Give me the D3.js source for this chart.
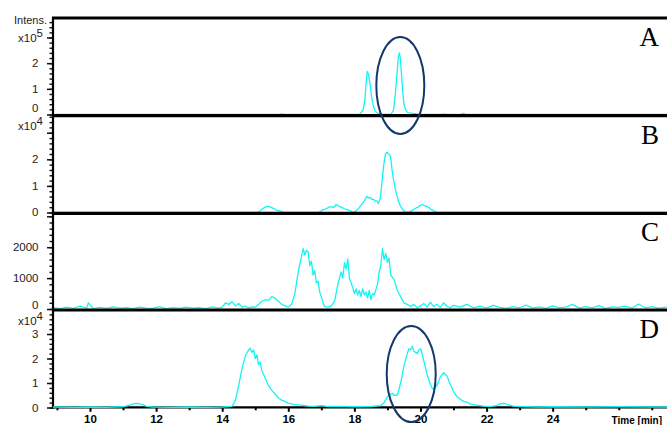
<!DOCTYPE html>
<html><head><meta charset="utf-8">
<script src="https://cdn.jsdelivr.net/npm/d3@7"></script>
<style>body{margin:0;background:#fff}svg{display:block}</style>
</head><body><svg id="c" width="667" height="425"></svg>
<script>
// ---------------- data ----------------
const panelNames = ["A", "B", "C", "D"];
const xLabelTicks = [10, 12, 14, 16, 18, 20, 22, 24];
const xMinorTicks = [9, 11, 13, 15, 17, 19, 21, 23, 25, 26, 27];
const xTitle = "Time [min]";
const yTitle = "Intens.";
const yLabelsA = [0, 1, 2];
const yLabelsB = [0, 1, 2];
const yLabelsC = [0, 1000, 2000];
const yLabelsD = [0, 1, 2, 3];
const exponents = ["5", "4", null, "4"];

// Panel A, intensity x10^5
const traceA = [[8.88,0],[15.7,0],[15.8,0.02],[15.9,0],[18.15,0],[18.22,0.1],[18.27,0.2],[18.32,0.6],[18.36,1.3],[18.39,1.68],[18.43,1.55],[18.47,1.2],[18.52,0.7],[18.57,0.35],[18.62,0.15],[18.7,0.05],[18.8,0.02],[19.1,0],[19.18,0.15],[19.24,0.8],[19.29,1.6],[19.33,2.25],[19.36,2.4],[19.39,2.2],[19.43,1.5],[19.47,0.8],[19.5,0.4],[19.56,0.15],[19.62,0.07],[19.72,0.05],[19.85,0.03],[19.95,0],[20.6,0],[20.7,0.02],[20.8,0],[21.2,0],[21.3,0.04],[21.4,0],[27.46,0]];

// Panel B, intensity x10^4
const traceB = [[8.88,0],[15.05,0],[15.15,0.05],[15.22,0.14],[15.3,0.2],[15.36,0.23],[15.42,0.22],[15.5,0.18],[15.58,0.14],[15.66,0.08],[15.75,0.05],[15.86,0.01],[16.0,0],[16.9,0],[16.97,0.04],[17.05,0.1],[17.15,0.14],[17.22,0.2],[17.3,0.22],[17.37,0.18],[17.45,0.3],[17.52,0.25],[17.6,0.2],[17.7,0.14],[17.8,0.1],[17.9,0.05],[17.97,0.01],[18.05,0.06],[18.13,0.15],[18.2,0.28],[18.28,0.4],[18.33,0.5],[18.38,0.6],[18.43,0.55],[18.48,0.57],[18.53,0.48],[18.58,0.5],[18.63,0.42],[18.68,0.44],[18.72,0.34],[18.78,0.5],[18.84,1.2],[18.89,1.8],[18.94,2.2],[18.99,2.27],[19.04,2.2],[19.08,2.15],[19.11,1.95],[19.14,1.6],[19.19,1.2],[19.24,0.87],[19.29,0.62],[19.34,0.4],[19.39,0.25],[19.44,0.15],[19.5,0.06],[19.56,0.01],[19.68,0.03],[19.76,0.08],[19.84,0.15],[19.92,0.2],[19.98,0.26],[20.05,0.3],[20.1,0.27],[20.16,0.24],[20.24,0.2],[20.32,0.12],[20.42,0.05],[20.52,0],[27.46,0]];

// Panel C, intensity (absolute)
const traceC = [[8.88,40],[9.1,10],[9.3,60],[9.5,20],[9.7,90],[9.9,30],[9.95,200],[10.1,15],[10.3,50],[10.5,20],[10.7,70],[10.9,25],[11.1,40],[11.3,10],[11.5,60],[11.7,30],[11.9,20],[12.1,80],[12.3,15],[12.5,45],[12.7,20],[12.9,60],[13.1,25],[13.3,40],[13.5,15],[13.7,70],[13.9,30],
[14.0,60],[14.1,200],[14.2,150],[14.3,230],[14.4,100],[14.5,180],[14.6,60],[14.7,90],[14.8,40],[14.9,70],[15.0,60],[15.1,150],[15.2,250],[15.3,300],[15.4,280],[15.5,400],[15.6,350],[15.7,250],[15.8,150],[15.9,100],[16.0,60],[16.1,150],[16.2,500],[16.3,1200],[16.4,1700],[16.45,1950],[16.5,1750],[16.55,1900],[16.6,1850],[16.65,1400],[16.7,1550],[16.75,1100],[16.8,1250],[16.85,850],[16.9,900],[16.95,550],[17.0,400],[17.05,200],[17.1,80],[17.2,60],[17.3,100],[17.4,250],[17.5,800],[17.6,1200],[17.65,1000],[17.7,1500],[17.75,1300],[17.8,1620],[17.85,1000],[17.9,850],[17.95,700],[18.0,500],[18.05,650],[18.1,450],[18.15,600],[18.2,400],[18.25,650],[18.3,450],[18.35,550],[18.4,350],[18.45,600],[18.5,300],[18.55,500],[18.6,450],[18.7,800],[18.75,1200],[18.8,1400],[18.85,1950],[18.9,1600],[18.95,1800],[19.0,1500],[19.05,1650],[19.1,1100],[19.2,950],[19.3,600],[19.4,400],[19.5,200],[19.6,150],[19.7,80],[19.8,150],[19.9,40],[20.0,100],[20.1,180],[20.2,60],[20.3,220],[20.4,80],[20.5,150],[20.6,50],[20.7,200],[20.8,90],[20.9,40],[21.0,120],
[21.2,60],[21.4,150],[21.6,40],[21.8,90],[22.0,30],[22.2,120],[22.4,50],[22.6,20],[22.8,80],[23.0,40],[23.2,130],[23.4,30],[23.6,70],[23.8,20],[24.0,100],[24.2,40],[24.4,60],[24.6,150],[24.8,30],[25.0,80],[25.2,40],[25.4,110],[25.6,20],[25.8,70],[26.0,50],[26.2,90],[26.4,30],[26.6,160],[26.8,40],[27.0,80],[27.2,30],[27.46,60]];

// Panel D, intensity x10^4
const traceD = [[8.88,0.02],[9.5,0.01],[10.0,0.02],[10.5,0.01],[11.0,0.03],[11.2,0.1],[11.3,0.15],[11.4,0.17],[11.5,0.15],[11.6,0.12],[11.7,0.05],[11.9,0.02],[12.5,0.01],[13.0,0.02],[13.5,0.01],[14.0,0.02],[14.3,0.05],[14.4,0.3],[14.5,0.9],[14.6,1.6],[14.7,2.1],[14.8,2.35],[14.85,2.42],[14.9,2.25],[14.95,2.35],[15.0,2.0],[15.05,2.15],[15.1,1.75],[15.15,1.85],[15.2,1.5],[15.3,1.2],[15.4,0.9],[15.5,0.7],[15.6,0.55],[15.7,0.4],[15.8,0.3],[15.9,0.25],[16.0,0.18],[16.2,0.12],[16.4,0.1],[16.6,0.06],[16.8,0.05],[17.0,0.08],[17.2,0.04],[17.5,0.05],[18.0,0.03],[18.5,0.04],[18.8,0.08],[18.9,0.2],[19.0,0.45],[19.1,0.55],[19.15,0.58],[19.2,0.5],[19.3,0.5],[19.4,1.0],[19.5,1.7],[19.6,2.2],[19.65,2.4],[19.7,2.35],[19.75,2.5],[19.8,2.3],[19.85,2.25],[19.9,2.2],[19.95,2.35],[20.0,2.4],[20.05,2.2],[20.1,1.9],[20.2,1.35],[20.3,0.95],[20.35,0.8],[20.4,0.75],[20.5,0.9],[20.6,1.25],[20.7,1.42],[20.8,1.3],[20.9,0.95],[21.0,0.65],[21.1,0.45],[21.2,0.35],[21.3,0.25],[21.4,0.22],[21.5,0.15],[21.7,0.1],[21.9,0.06],[22.1,0.04],[22.3,0.08],[22.4,0.15],[22.5,0.17],[22.6,0.14],[22.7,0.1],[22.8,0.06],[23.0,0.04],[23.5,0.02],[24.0,0.03],[25.0,0.02],[26.0,0.03],[27.0,0.02],[27.46,0.02]];

// ---------------- layout ----------------
const W = 667, H = 425;
const left = 53, right = 667;
const svg = d3.select("#c");
const x = d3.scaleLinear().domain([8.88, 27.46]).range([left, right]);

const panels = [
  {name: panelNames[0], top: 18,    zero: 114.5, max: 3.76, data: traceA, labels: yLabelsA, minor: 0.2, exp: exponents[0], expVal: 3, expNudge: 0, zeroNudge: -6.5},
  {name: panelNames[1], top: 115.7, zero: 212.5, max: 3.64, data: traceB, labels: yLabelsB, minor: 0.2, exp: exponents[1], expVal: 3, expNudge: -7, zeroNudge: -1},
  {name: panelNames[2], top: 213.3, zero: 309,   max: 3097, data: traceC, labels: yLabelsC, minor: 200, exp: exponents[2], expVal: 0, expNudge: 0, zeroNudge: -4},
  {name: panelNames[3], top: 310,   zero: 407.5, max: 3.98, data: traceD, labels: yLabelsD, minor: 0.2, exp: exponents[3], expVal: 4, expNudge: 10.5, zeroNudge: 0}
];

svg.append("defs").append("clipPath").attr("id", "plotclip")
  .append("rect").attr("x", left).attr("y", 0).attr("width", right - left).attr("height", H);

const traceColor = "#14f4f4";
const line = d3.line().x(d => x(d[0]));

panels.forEach(p => {
  p.y = d3.scaleLinear().domain([0, p.max]).range([p.zero, p.top]);
});

// traces A-C (under separators)
panels.slice(0, 3).forEach(p => {
  svg.append("path").datum(p.data)
    .attr("clip-path", "url(#plotclip)")
    .attr("fill", "none").attr("stroke", traceColor).attr("stroke-width", 1.3)
    .attr("stroke-linejoin", "round")
    .attr("d", line.y(d => p.y(d[1])));
});

// y axes ticks
panels.forEach(p => {
  const minorVals = d3.range(0, p.max + 1e-9, p.minor);
  const gMin = svg.append("g").attr("transform", `translate(${left},0)`)
    .call(d3.axisLeft(p.y).tickValues(minorVals).tickSize(3.5).tickFormat(""));
  gMin.select(".domain").remove();
  gMin.selectAll("line").attr("stroke", "#111").attr("stroke-width", 1.4);
  const majorVals = d3.range(0, p.max + 1e-9, p.minor * 5);
  const gMaj = svg.append("g").attr("transform", `translate(${left},0)`)
    .call(d3.axisLeft(p.y).tickValues(majorVals).tickSize(6).tickFormat(""));
  gMaj.select(".domain").remove();
  gMaj.selectAll("line").attr("stroke", "#111").attr("stroke-width", 1.5);

  p.labels.forEach(v => {
    svg.append("text")
      .attr("x", 38.5).attr("y", p.y(v) + (v === 0 ? p.zeroNudge : 0))
      .attr("dy", "0.36em").attr("text-anchor", "end")
      .attr("font-family", "Liberation Sans, Arial, sans-serif").attr("font-size", 11.5)
      .attr("fill", "#222").text(v);
  });
  if (p.exp) {
    const t = svg.append("text")
      .attr("x", 43).attr("y", p.y(p.expVal) + p.expNudge + 4.5)
      .attr("text-anchor", "end")
      .attr("font-family", "Liberation Sans, Arial, sans-serif").attr("font-size", 11.5)
      .attr("fill", "#222");
    t.append("tspan").text("x10");
    t.append("tspan").attr("dy", -5).text(p.exp);
  }
  svg.append("text")
    .attr("x", 659).attr("y", p.top + 28)
    .attr("text-anchor", "end")
    .attr("font-family", "Liberation Serif, Times New Roman, serif").attr("font-size", 27)
    .attr("fill", "#000").text(p.name);
});

// separators & frame
panels.forEach(p => {
  svg.append("line").attr("x1", left - 1).attr("x2", right).attr("y1", p.top).attr("y2", p.top)
    .attr("stroke", "#000").attr("stroke-width", 3.2);
});
svg.append("line").attr("x1", left).attr("x2", left).attr("y1", 17).attr("y2", 408.5)
  .attr("stroke", "#000").attr("stroke-width", 2.2);

// bottom axis
const gx = svg.append("g").attr("transform", "translate(0,407.3)");
gx.call(d3.axisBottom(x).tickValues(xMinorTicks).tickSize(3).tickFormat(""));
gx.select(".domain").remove();
gx.selectAll("line").attr("stroke", "#000").attr("stroke-width", 2);
const gx2 = svg.append("g").attr("transform", "translate(0,407.3)");
gx2.call(d3.axisBottom(x).tickValues(xLabelTicks).tickSize(4.5).tickPadding(3.5).tickFormat(d3.format("d")));
gx2.select(".domain").remove();
gx2.selectAll("line").attr("stroke", "#000").attr("stroke-width", 2);
gx2.selectAll("text").attr("font-family", "Liberation Sans, Arial, sans-serif")
  .attr("font-size", 11.5).attr("font-weight", "bold").attr("fill", "#000");
svg.append("line").attr("x1", left).attr("x2", right).attr("y1", 407.3).attr("y2", 407.3)
  .attr("stroke", "#000").attr("stroke-width", 2.3);

// trace D on top of axis
const pD = panels[3];
svg.append("path").datum(pD.data)
  .attr("clip-path", "url(#plotclip)")
  .attr("fill", "none").attr("stroke", traceColor).attr("stroke-width", 1.3)
  .attr("stroke-linejoin", "round")
  .attr("d", line.y(d => pD.y(d[1])));

svg.append("text").attr("x", 662).attr("y", 423.5)
  .attr("text-anchor", "end")
  .attr("font-family", "Liberation Sans, Arial, sans-serif").attr("font-size", 10)
  .attr("font-weight", "bold").attr("fill", "#000").text(xTitle);

svg.append("text").attr("x", 47).attr("y", 24)
  .attr("text-anchor", "end")
  .attr("font-family", "Liberation Sans, Arial, sans-serif").attr("font-size", 11)
  .attr("fill", "#222").text(yTitle);

// highlight ellipses
const ellipseColor = "#14386a";
svg.append("ellipse").attr("cx", x(19.39)).attr("cy", 85.5).attr("rx", 24).attr("ry", 48.5)
  .attr("fill", "none").attr("stroke", ellipseColor).attr("stroke-width", 2);
svg.append("ellipse").attr("cx", x(19.72)).attr("cy", 374).attr("rx", 24.5).attr("ry", 48)
  .attr("fill", "none").attr("stroke", ellipseColor).attr("stroke-width", 2);
</script>
</body></html>
